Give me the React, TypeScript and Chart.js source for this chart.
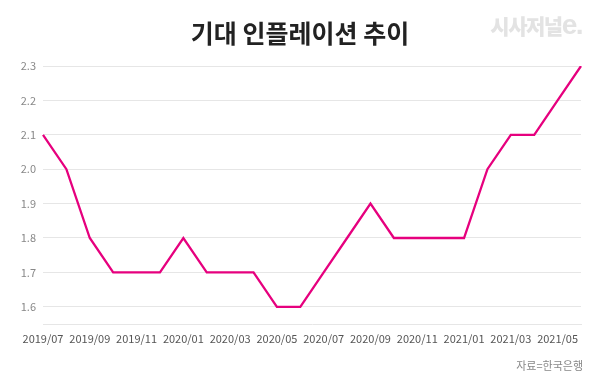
import React, { useEffect, useRef } from "react";
import { Chart, registerables } from "chart.js";

Chart.register(...registerables);

const months = [
  "2019/07", "2019/08", "2019/09", "2019/10", "2019/11", "2019/12",
  "2020/01", "2020/02", "2020/03", "2020/04", "2020/05", "2020/06",
  "2020/07", "2020/08", "2020/09", "2020/10", "2020/11", "2020/12",
  "2021/01", "2021/02", "2021/03", "2021/04", "2021/05", "2021/06",
];
const expectedInflation = [
  2.1, 2.0, 1.8, 1.7, 1.7, 1.7,
  1.8, 1.7, 1.7, 1.7, 1.6, 1.6,
  1.7, 1.8, 1.9, 1.8, 1.8, 1.8,
  1.8, 2.0, 2.1, 2.1, 2.2, 2.3,
];
const yTicks = [1.6, 1.7, 1.8, 1.9, 2.0, 2.1, 2.2, 2.3];

const FONT = "'Noto Sans CJK KR', 'Noto Sans', sans-serif";

export default function App() {
  const ref = useRef<HTMLCanvasElement | null>(null);

  useEffect(() => {
    document.body.style.margin = "0";
    const ctx = ref.current!.getContext("2d")!;
    const chart = new Chart(ctx, {
      type: "line",
      data: {
        labels: months,
        datasets: [
          {
            data: expectedInflation,
            borderColor: "#e6007e",
            borderWidth: 2.3,
            pointRadius: 0,
            tension: 0,
            fill: false,
          },
        ],
      },
      options: {
        animation: false,
        responsive: false,
        maintainAspectRatio: false,
        layout: { padding: { left: 0, right: 19, top: 66, bottom: 0 } },
        plugins: { legend: { display: false }, tooltip: { enabled: false } },
        scales: {
          x: {
            offset: false,
            grid: { display: false, drawTicks: false },
            border: { display: true, color: "#e6e6e6", width: 1 },
            ticks: {
              autoSkip: false,
              maxRotation: 0,
              padding: 8,
              color: "#555",
              font: { family: FONT, size: 11 },
              callback: (_v: any, i: number) => (i % 2 === 0 ? months[i] : ""),
            },
            afterFit: (s: any) => {
              s.height = 58;
            },
          },
          y: {
            min: 1.55,
            max: 2.3,
            grid: { color: "#e6e6e6", drawTicks: false, lineWidth: 1 },
            border: { display: false },
            ticks: {
              padding: 7,
              color: "#888",
              font: { family: FONT, size: 11 },
              callback: (v: any) => Number(v).toFixed(1),
            },
            afterBuildTicks: (s: any) => {
              s.ticks = yTicks.map((v) => ({ value: v }));
            },
            afterFit: (s: any) => {
              s.width = 43;
            },
          },
        },
      },
    });
    return () => chart.destroy();
  }, []);

  return (
    <div style={{ position: "relative", width: 600, height: 382, background: "#fff", overflow: "hidden" }}>
      <canvas ref={ref} width={600} height={382} style={{ position: "absolute", left: 0, top: 0 }} />
      <div
        style={{
          position: "absolute",
          left: 0,
          width: 600,
          top: 14,
          textAlign: "center",
          fontFamily: FONT,
          fontWeight: 700,
          fontSize: 25,
          color: "#222",
          lineHeight: "36px",
        }}
      >
        기대 인플레이션 추이
      </div>
      <div
        style={{
          position: "absolute",
          right: 18,
          top: 11,
          fontFamily: FONT,
          fontWeight: 900,
          fontSize: 21,
          color: "#e3e3e3",
          lineHeight: "28px",
          letterSpacing: -1.5,
        }}
      >
        시사저널<span style={{ fontSize: 28, fontFamily: "'Liberation Sans', sans-serif", fontWeight: 700 }}>e.</span>
      </div>
      <div
        style={{
          position: "absolute",
          right: 17,
          top: 357,
          fontFamily: FONT,
          fontSize: 11,
          color: "#888",
          lineHeight: "16px",
        }}
      >
        자료=한국은행
      </div>
    </div>
  );
}
